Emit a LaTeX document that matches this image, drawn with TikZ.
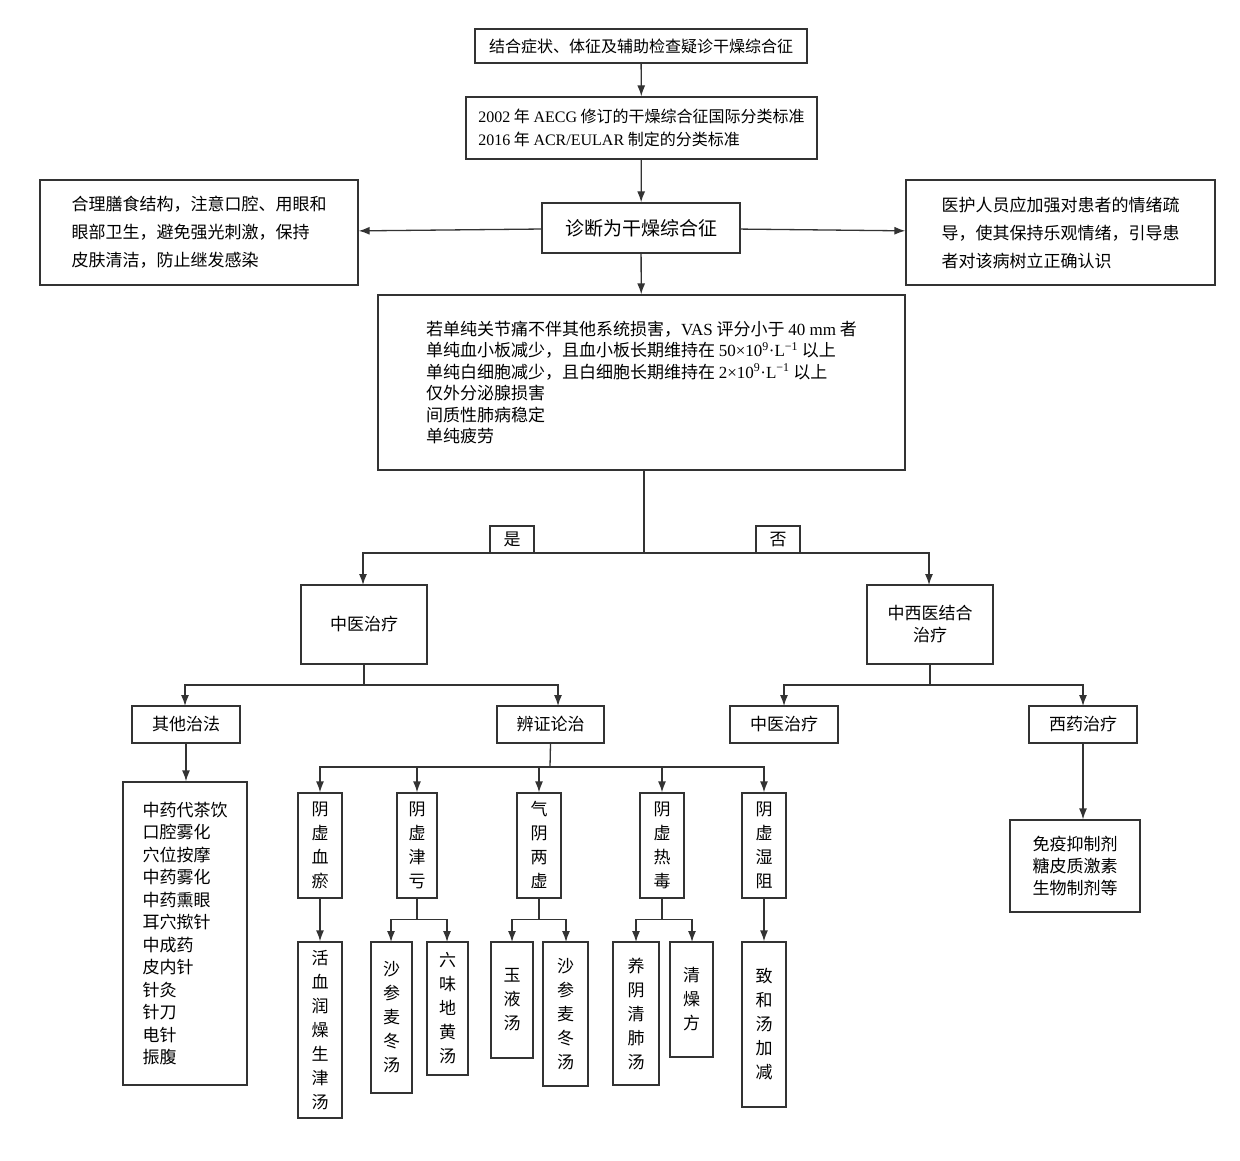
\documentclass[tikz,border=0pt]{standalone}
\usepackage{fontspec}
\setmainfont{Noto Sans CJK SC}
\newfontfamily\tm{Liberation Serif}
\usetikzlibrary{arrows.meta}
\tikzset{
 box/.style={draw=black!80,line width=1.3pt,fill=white,inner sep=0pt,font=\fontsize{17}{22}\selectfont},
 arr/.style={draw=black!80,line width=1.3pt,-{Latex[length=11pt,width=8pt]}},
 ln/.style={draw=black!80,line width=1.3pt},
 vt/.style={align=center,font=\fontsize{17}{24}\selectfont}
}
\newcommand\mybox[7]{\node[box,#6,minimum width={(#4-#2)*1pt},minimum height={(#5-#3)*1pt}] (#1) at ({(#2+#4)/2},{(#3+#5)/2}) {#7};}
\begin{document}
\begin{tikzpicture}[x=1pt,y=-1pt]
\useasboundingbox (0,0) rectangle (1240,1160);
\mybox{a}{475}{29}{807}{63}{font=\fontsize{16}{20}\selectfont}{结合症状、体征及辅助检查疑诊干燥综合征}
\mybox{b}{466}{97}{817}{159}{align=left,font=\fontsize{16}{23}\selectfont}{{\tm 2002} 年 {\tm AECG} 修订的干燥综合征国际分类标准\\{\tm 2016} 年 {\tm ACR/EULAR} 制定的分类标准}
\mybox{c}{542}{203}{740}{253}{font=\fontsize{19}{22}\selectfont}{诊断为干燥综合征}
\mybox{d}{40}{180}{358}{285}{align=left,font=\fontsize{17}{28}\selectfont}{合理膳食结构，注意口腔、用眼和\\眼部卫生，避免强光刺激，保持\\皮肤清洁，防止继发感染}
\mybox{e}{906}{180}{1215}{285}{align=left,font=\fontsize{17}{28}\selectfont}{医护人员应加强对患者的情绪疏\\导，使其保持乐观情绪，引导患\\者对该病树立正确认识}
\mybox{f}{378}{295}{905}{470}{align=left,font=\fontsize{17}{21.5}\selectfont}{若单纯关节痛不伴其他系统损害，{\tm VAS} 评分小于 {\tm 40 mm} 者\\单纯血小板减少，且血小板长期维持在 {\tm 50×10\textsuperscript{9}·L\textsuperscript{−1}} 以上\\单纯白细胞减少，且白细胞长期维持在 {\tm 2×10\textsuperscript{9}·L\textsuperscript{−1}} 以上\\仅外分泌腺损害\\间质性肺病稳定\\单纯疲劳}
\mybox{g}{301}{585}{427}{664}{}{中医治疗}
\mybox{h}{867}{585}{993}{664}{align=center}{中西医结合\\治疗}
\mybox{i}{132}{706}{240}{743}{}{其他治法}
\mybox{j}{497}{706}{604}{743}{}{辨证论治}
\mybox{k}{730}{706}{838}{743}{}{中医治疗}
\mybox{l}{1029}{706}{1137}{743}{}{西药治疗}
\mybox{m}{123}{782}{247}{1085}{align=left,font=\fontsize{17}{22.5}\selectfont}{中药代茶饮\\口腔雾化\\穴位按摩\\中药雾化\\中药熏眼\\耳穴揿针\\中成药\\皮内针\\针灸\\针刀\\电针\\振腹}
\mybox{n}{1010}{820}{1140}{912}{align=center,font=\fontsize{17}{22}\selectfont}{免疫抑制剂\\糖皮质激素\\生物制剂等}
\mybox{p1}{298}{793}{342}{898}{vt}{阴\\虚\\血\\瘀}
\mybox{p2}{397}{793}{437}{898}{vt}{阴\\虚\\津\\亏}
\mybox{p3}{517}{793}{561}{898}{vt}{气\\阴\\两\\虚}
\mybox{p4}{640}{793}{684}{898}{vt}{阴\\虚\\热\\毒}
\mybox{p5}{742}{793}{786}{898}{vt}{阴\\虚\\湿\\阻}
\mybox{q1}{298}{942}{342}{1118}{vt}{活\\血\\润\\燥\\生\\津\\汤}
\mybox{q2}{371}{942}{412}{1093}{vt}{沙\\参\\麦\\冬\\汤}
\mybox{q3}{427}{942}{468}{1075}{vt}{六\\味\\地\\黄\\汤}
\mybox{q4}{491}{942}{533}{1058}{vt}{玉\\液\\汤}
\mybox{q5}{543}{942}{588}{1086}{vt}{沙\\参\\麦\\冬\\汤}
\mybox{q6}{613}{942}{659}{1085}{vt}{养\\阴\\清\\肺\\汤}
\mybox{q7}{670}{942}{713}{1057}{vt}{清\\燥\\方}
\mybox{q8}{742}{942}{786}{1107}{vt}{致\\和\\汤\\加\\减}
% connectors
\draw[arr] (a) -- (b);
\draw[arr] (b) -- (c);
\draw[arr] (c) -- (d);
\draw[arr] (c) -- (e);
\draw[arr] (c) -- (f);
\coordinate (f1) at (644,553);
\draw[ln] (f.south -| f1) -- (f1);
\draw[arr] (f1) -| (363,585);
\draw[arr] (f1) -| (929,585);
\mybox{yes}{490}{526}{534}{553}{}{是}
\mybox{no}{756}{526}{800}{553}{}{否}
\coordinate (g1) at (364,685);
\draw[ln] (g.south) -- (g1);
\draw[arr] (g1) -| (185,706);
\draw[arr] (g1) -| (558,706);
\coordinate (h1) at (930,685);
\draw[ln] (h.south) -- (h1);
\draw[arr] (h1) -| (784,706);
\draw[arr] (h1) -| (1083,706);
\draw[arr] (i.south) -- (m.north -| i.south);
\draw[arr] (l.south) -- (n.north -| l.south);
\coordinate (j1) at (550,767);
\draw[ln] (j.south) -- (j1);
\foreach \t in {p1,p2,p3,p4,p5} {\draw[arr] (j1) -| (\t.north);}
\draw[arr] (p1) -- (q1);
\draw[arr] (p5) -- (q8);
\draw[ln] (p2.south) -- ++(0,21) coordinate (c2);
\draw[arr] (c2) -| (391,942); \draw[arr] (c2) -| (447,942);
\draw[ln] (p3.south) -- ++(0,21) coordinate (c3);
\draw[arr] (c3) -| (512,942); \draw[arr] (c3) -| (566,942);
\draw[ln] (p4.south) -- ++(0,21) coordinate (c4);
\draw[arr] (c4) -| (636,942); \draw[arr] (c4) -| (692,942);
\end{tikzpicture}
\end{document}
